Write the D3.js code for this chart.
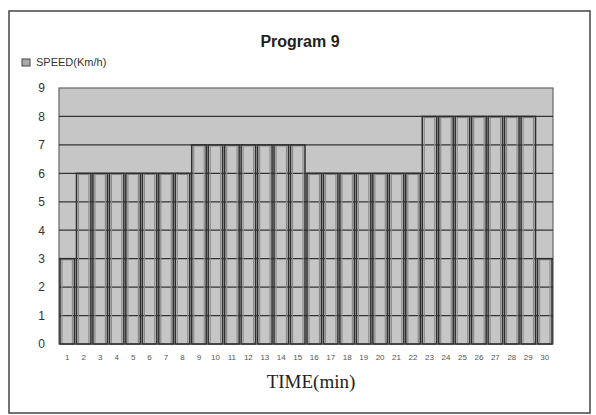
<!DOCTYPE html>
<html><head><meta charset="utf-8">
<script src="https://cdn.jsdelivr.net/npm/d3@7"></script>
<style>body{margin:0;background:#fff}svg{display:block}</style>
</head><body>
<script>
const categories = d3.range(1, 31).map(String);
const speed = [3,6,6,6,6,6,6,6,7,7,7,7,7,7,7,6,6,6,6,6,6,6,8,8,8,8,8,8,8,3];
const yTicks = [0,1,2,3,4,5,6,7,8,9];
const title = "Program 9";
const seriesName = "SPEED(Km/h)";
const xTitle = "TIME(min)";

const W = 596, H = 415;
const m = {left: 59, top: 88, right: 553, bottom: 344};
const svg = d3.select("body").append("svg").attr("width", W).attr("height", H);

// outer frame
svg.append("rect").attr("x", 9).attr("y", 11).attr("width", 581).attr("height", 402)
  .attr("fill", "#fff").attr("stroke", "#444").attr("stroke-width", 1.5);

const x = d3.scaleBand().domain(categories).range([m.left, m.right]).padding(0);
const y = d3.scaleLinear().domain([0, 9]).range([m.bottom, m.top]);

// plot area
svg.append("rect").attr("x", m.left).attr("y", m.top).attr("width", m.right - m.left)
  .attr("height", m.bottom - m.top).attr("fill", "#c6c6c6").attr("stroke", "#666").attr("stroke-width", 1.2);

// gridlines
svg.append("g").selectAll("line").data(yTicks.filter(t => t > 0 && t < 9)).join("line")
  .attr("x1", m.left).attr("x2", m.right)
  .attr("y1", d => y(d)).attr("y2", d => y(d))
  .attr("stroke", "#333").attr("stroke-width", 1.3);

// bars: grey inner edge + dark outline
const bars = svg.append("g");
bars.selectAll("rect.i").data(speed).join("rect").attr("class", "i")
  .attr("x", (d, i) => x(categories[i]) + 3)
  .attr("y", d => y(d) + 1)
  .attr("width", x.bandwidth() - 6)
  .attr("height", d => y(0) - y(d) - 1)
  .attr("fill", "none").attr("stroke", "#8a8a8a").attr("stroke-width", 1.2);
bars.selectAll("rect.o").data(speed).join("rect").attr("class", "o")
  .attr("x", (d, i) => x(categories[i]) + 1)
  .attr("y", d => y(d))
  .attr("width", x.bandwidth() - 2)
  .attr("height", d => y(0) - y(d))
  .attr("fill", "none")
  .attr("stroke", "#2e2e2e")
  .attr("stroke-width", 1.5);

// y axis labels
const yAxis = d3.axisLeft(y).tickValues(yTicks).tickSize(0).tickPadding(14);
const ya = svg.append("g").attr("transform", `translate(${m.left},0)`).call(yAxis);
ya.select(".domain").remove();
ya.selectAll("text").attr("font-family", "Liberation Sans, Arial, sans-serif")
  .attr("font-size", 12).attr("fill", "#333");

// x axis labels
const xAxis = d3.axisBottom(x).tickSize(0).tickPadding(10);
const xa = svg.append("g").attr("transform", `translate(0,${m.bottom})`).call(xAxis);
xa.select(".domain").remove();
xa.selectAll("text").attr("font-family", "Liberation Sans, Arial, sans-serif")
  .attr("font-size", 8).attr("fill", "#555");

// title
svg.append("text").attr("x", 300).attr("y", 47).attr("text-anchor", "middle")
  .attr("font-family", "Liberation Sans, Arial, sans-serif").attr("font-weight", "bold")
  .attr("font-size", 16).attr("fill", "#222").text(title);

// legend
svg.append("rect").attr("x", 22).attr("y", 59).attr("width", 8).attr("height", 7)
  .attr("fill", "#aaa").attr("stroke", "#444").attr("stroke-width", 1);
svg.append("text").attr("x", 36).attr("y", 66)
  .attr("font-family", "Liberation Sans, Arial, sans-serif").attr("font-size", 11)
  .attr("fill", "#333").text(seriesName);

// x title
svg.append("text").attr("x", 311).attr("y", 388).attr("text-anchor", "middle")
  .attr("font-family", "Liberation Serif, Times New Roman, serif").attr("font-size", 19)
  .attr("fill", "#222").text(xTitle);
</script>
</body></html>
